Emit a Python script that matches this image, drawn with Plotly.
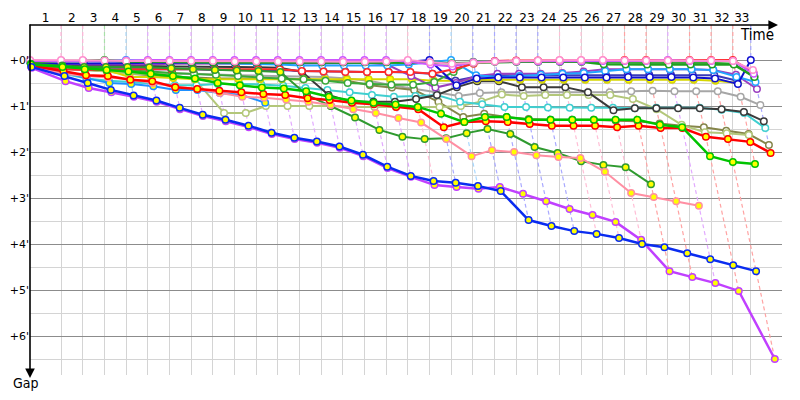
import plotly.graph_objects as go

# ---------------- data ----------------
# leader lap times in seconds (lap 1 .. lap 33)
leader_lap_s = [190,
                133, 133, 132, 133, 133, 132, 133, 133, 132, 133,
                133, 132, 133, 133, 132, 133, 133, 132, 133, 133,
                132, 133, 133, 132, 133, 133, 132, 133, 133, 132,
                133, 110]
lap_labels = ["1", "2", "3", "4", "5", "6", "7", "8", "9", "10", "11",
              "12", "13", "14", "15", "16", "17", "18", "19", "20", "21",
              "22", "23", "24", "25", "26", "27", "28", "29", "30", "31",
              "32", "33"]
gap_tick_vals = [0, 1, 2, 3, 4, 5, 6]
gap_tick_text = ["+0'", "+1'", "+2'", "+3'", "+4'", "+5'", "+6'"]
gap_minor_vals = [0.5, 1.5, 2.5, 3.5, 4.5, 5.5, 6.5]

# gap to leader (minutes) at the end of each lap, lap 0 = start
gap_pink = [0.00, 0.00, 0.00, 0.01, 0.02, 0.02, 0.02, 0.02, 0.02, 0.03,
            0.03, 0.03, 0.03, 0.03, 0.04, 0.04, 0.03, 0.00, 0.05, 0.08,
            0.06, 0.03, 0.02, 0.01, 0.00, 0.00, 0.00, 0.01, 0.01, 0.01,
            0.01, 0.01, 0.02, 0.22]
gap_violet = [0.02, 0.03, 0.02, 0.02, 0.01, 0.00, 0.00, 0.00, 0.00, 0.00,
              0.00, 0.00, 0.00, 0.00, 0.00, 0.00, 0.00, 0.04, 0.10, 0.14,
              0.05, 0.03, 0.03, 0.03, 0.03, 0.03, 0.02, 0.02, 0.02, 0.00,
              0.02, 0.02, 0.02, 0.30]
gap_green = [0.05, 0.02, 0.02, 0.00, 0.03, 0.03, 0.04, 0.05, 0.05, 0.05,
             0.05, 0.05, 0.05, 0.05, 0.05, 0.05, 0.05, 0.05, 0.06, 0.07,
             0.06, 0.04, 0.04, 0.04, 0.04, 0.04, 0.09, 0.10, 0.10, 0.10,
             0.10, 0.10, 0.10, 0.37]
gap_red_top = [0.10, 0.20, 0.22, 0.22, 0.20, 0.20, 0.20, 0.20, 0.20, 0.20,
               0.20, 0.20, 0.24, 0.25, 0.26, 0.26, 0.26, 0.26, 0.30, 0.20,
               0.08, 0.02, 0.01, 0.01, 0.01, 0.01, 0.01, 0.00, 0.00, 0.01,
               0.00, 0.00, 0.00, 0.27]
gap_light_blue = [0.05, 0.03, 0.02, 0.02, 0.00, 0.02, 0.05, 0.06, 0.07, 0.07,
                  0.08, 0.10, 0.12, 0.12, 0.12, 0.12, 0.12, 0.10, 0.05, 0.00,
                  0.33, 0.37, 0.35, 0.32, 0.30, 0.28, 0.24, 0.20, 0.20, 0.20,
                  0.20, 0.22, 0.37, 0.48]
gap_navy = [0.08, 0.08, 0.07, 0.07, 0.07, 0.06, 0.06, 0.06, 0.06, 0.06,
            0.06, 0.06, 0.05, 0.05, 0.05, 0.04, 0.04, 0.04, 0.00, 0.55,
            0.40, 0.38, 0.38, 0.38, 0.38, 0.38, 0.38, 0.37, 0.37, 0.37,
            0.38, 0.40, 0.52, 0.00]
gap_indigo = [0.10, 0.15, 0.18, 0.20, 0.20, 0.20, 0.20, 0.20, 0.22, 0.22,
              0.22, 0.22, 0.24, 0.25, 0.25, 0.26, 0.26, 0.27, 0.30, 0.45,
              0.36, 0.33, 0.33, 0.33, 0.33, 0.32, 0.32, 0.32, 0.32, 0.32,
              0.32, 0.33, 0.45]
gap_purple = [0.05, 0.08, 0.10, 0.10, 0.10, 0.10, 0.08, 0.08, 0.08, 0.08,
              0.08, 0.08, 0.07, 0.07, 0.07, 0.06, 0.10, 0.35, 0.60, 0.50,
              0.35, 0.30, 0.30, 0.30, 0.28, 0.25, 0.20, 0.20, 0.20, 0.20,
              0.20, 0.22, 0.32, 0.63]
gap_green2 = [0.10, 0.15, 0.18, 0.20, 0.22, 0.25, 0.28, 0.30, 0.32, 0.35,
              0.38, 0.40, 0.42, 0.45, 0.50, 0.52, 0.54, 0.54, 0.48, 0.26,
              0.04, 0.03, 0.03, 0.03, 0.04, 0.04, 0.05, 0.06, 0.06, 0.06,
              0.06, 0.06, 0.08, 0.37]
gap_grey = [0.15, 0.20, 0.22, 0.24, 0.26, 0.28, 0.30, 0.30, 0.32, 0.33,
            0.34, 0.35, 0.36, 0.37, 0.40, 0.45, 0.55, 0.62, 0.70, 0.78,
            0.72, 0.70, 0.70, 0.70, 0.70, 0.70, 0.70, 0.68, 0.67, 0.68,
            0.68, 0.68, 0.80, 0.98]
gap_dark_grey = [0.10, 0.10, 0.12, 0.12, 0.13, 0.13, 0.14, 0.14, 0.15, 0.15,
                 0.16, 0.17, 0.26, 0.76, 0.91, 0.91, 0.91, 0.85, 0.76, 0.59,
                 0.46, 0.46, 0.59, 0.59, 0.59, 0.70, 1.09, 1.05, 1.05, 1.05,
                 1.05, 1.07, 1.13, 1.33]
gap_cyan = [0.10, 0.30, 0.40, 0.45, 0.48, 0.52, 0.55, 0.55, 0.52, 0.52,
            0.53, 0.56, 0.61, 0.65, 0.70, 0.76, 0.80, 0.78, 0.76, 0.91,
            0.96, 1.02, 1.02, 1.03, 1.04, 1.04, 1.04, 1.05, 1.04, 1.04,
            1.04, 1.08, 1.15, 1.48]
gap_light_olive = [0.15, 0.20, 0.22, 0.25, 0.30, 0.30, 0.32, 0.43, 1.15, 1.15,
                   1.00, 1.00, 1.00, 1.00, 1.02, 1.02, 1.02, 1.02, 1.02, 1.00,
                   0.90, 0.75, 0.78, 0.76, 0.76, 0.76, 0.76, 0.85, 1.07, 1.41,
                   1.57, 1.59, 1.63]
gap_olive = [0.10, 0.15, 0.20, 0.25, 0.30, 0.33, 0.37, 0.38, 0.40, 0.40,
             0.40, 0.40, 0.42, 0.43, 0.45, 0.55, 0.60, 0.65, 0.91, 1.24,
             1.17, 1.24, 1.28, 1.30, 1.30, 1.30, 1.32, 1.33, 1.38, 1.43,
             1.46, 1.54, 1.61, 1.85]
gap_yellow = [0.15, 0.15, 0.18, 0.22, 0.37, 0.37, 0.39, 0.42, 0.42, 0.42,
              0.42, 0.42, 0.42, 0.42, 0.42, 0.42, 0.42, 0.42, 0.45, 0.45,
              0.43, 0.43, 0.43, 0.43, 0.43, 0.43, 0.43, 0.43, 0.43, 0.43,
              0.43, 0.45, 0.50]
gap_red_mid = [0.12, 0.24, 0.33, 0.35, 0.43, 0.46, 0.59, 0.63, 0.67, 0.70,
               0.74, 0.76, 0.83, 0.87, 0.93, 0.96, 1.02, 1.07, 1.46, 1.35,
               1.33, 1.35, 1.39, 1.43, 1.43, 1.43, 1.46, 1.43, 1.48, 1.48,
               1.67, 1.72, 1.78, 2.02]
gap_bright_green = [0.10, 0.15, 0.20, 0.22, 0.25, 0.30, 0.35, 0.40, 0.50, 0.55,
                    0.60, 0.62, 0.68, 0.80, 0.88, 0.93, 0.97, 1.02, 1.17, 1.35,
                    1.24, 1.24, 1.30, 1.30, 1.30, 1.30, 1.30, 1.30, 1.41, 1.46,
                    2.09, 2.22, 2.26]
gap_forest_green = [0.08, 0.12, 0.15, 0.15, 0.15, 0.16, 0.18, 0.20, 0.22, 0.23,
                    0.24, 0.26, 0.76, 1.00, 1.25, 1.52, 1.67, 1.72, 1.70, 1.59,
                    1.50, 1.61, 1.89, 2.02, 2.20, 2.28, 2.33, 2.70]
gap_salmon = [0.15, 0.30, 0.35, 0.38, 0.42, 0.50, 0.58, 0.63, 0.72, 0.80,
              0.82, 0.86, 0.91, 0.98, 1.07, 1.15, 1.26, 1.36, 1.72, 2.09,
              1.96, 2.00, 2.07, 2.11, 2.13, 2.43, 2.89, 2.98, 3.07, 3.17]
gap_dodger = [0.12, 0.25, 0.40, 0.50, 0.52, 0.57, 0.65, 0.65, 0.72, 0.76,
              0.93]
gap_blue = [0.15, 0.35, 0.50, 0.65, 0.77, 0.88, 1.04, 1.19, 1.30, 1.43,
            1.58, 1.69, 1.77, 1.88, 2.06, 2.32, 2.52, 2.63, 2.67, 2.74,
            2.85, 3.48, 3.61, 3.72, 3.78, 3.87, 4.00, 4.07, 4.20, 4.33,
            4.46, 4.59]
gap_violet_low = [0.17, 0.46, 0.61, 0.70, 0.80, 0.91, 1.07, 1.22, 1.33, 1.46,
                  1.61, 1.72, 1.80, 1.91, 2.09, 2.35, 2.54, 2.72, 2.76, 2.80,
                  2.76, 2.91, 3.07, 3.24, 3.37, 3.52, 3.91, 4.59, 4.72, 4.85,
                  5.02, 6.50]

# ---------------- styles ----------------
lap_line_colors = (["#ffb3d9"] * 2 + ["#a8e0a8", "#a8d4f5"] + ["#e2aaff"] * 12 +
                   ["#ffbfd6", "#a9a9ff", "#a9d8ff"] + ["#a9a9ff"] * 4 +
                   ["#ffbfd6"] * 3 + ["#ffa3a3"] * 2 + ["#e2aaff"] +
                   ["#ffa3a3"] * 3 + ["#a9a9ff"])

WHITE, YELLOW = "#ffffff", "#ffff00"
series = [
    # (gaps, line colour, marker fill, line width)
    (gap_grey, "#a6a6a6", WHITE, 2),
    (gap_olive, "#85854a", WHITE, 2),
    (gap_light_olive, "#b3c77a", WHITE, 2),
    (gap_cyan, "#3fcfd0", WHITE, 2),
    (gap_dark_grey, "#3a3a3a", WHITE, 2),
    (gap_yellow, "#d6d600", YELLOW, 2),
    (gap_indigo, "#3a3ab8", WHITE, 2),
    (gap_purple, "#9a3fc0", WHITE, 2),
    (gap_green2, "#3aa83a", WHITE, 2),
    (gap_light_blue, "#20a4ff", WHITE, 2),
    (gap_navy, "#1010d0", WHITE, 2),
    (gap_red_top, "#ff2a2a", WHITE, 2),
    (gap_green, "#1f9f1f", WHITE, 2.5),
    (gap_violet, "#cc55ff", WHITE, 2),
    (gap_pink, "#ff8fcf", WHITE, 2),
    (gap_dodger, "#1e90ff", YELLOW, 2),
    (gap_forest_green, "#2f9a2f", YELLOW, 2),
    (gap_salmon, "#ff8fa3", YELLOW, 2),
    (gap_red_mid, "#ff0000", YELLOW, 2.5),
    (gap_bright_green, "#00c400", YELLOW, 2.5),
    (gap_violet_low, "#c040ff", YELLOW, 2.5),
    (gap_blue, "#0a2cf0", YELLOW, 2.5),
]

# ---------------- geometry from data ----------------
T = [0]
for s in leader_lap_s:
    T.append(T[-1] + s)
PX_PER_MIN = 9.8
PLOT_W = 752          # plot area 30..782 px; grid is masked beyond 770 px
X_MAX = PLOT_W / PX_PER_MIN * 60.0
Y_TOP, Y_BOTTOM = -35 / 46, 315 / 46
mids = [(T[k - 1] + T[k]) / 2 for k in range(1, len(T))]

fig = go.Figure()

# lap lines (dashed): vertical from the top to the leader, then slanted through each car
for k in range(1, len(T)):
    gmax = max(g[k] for g, *_ in series if len(g) > k)
    fig.add_trace(go.Scatter(
        x=[T[k], T[k], T[k] + gmax * 60], y=[Y_TOP, 0, gmax],
        mode="lines", line=dict(color=lap_line_colors[k - 1], width=1.2, dash="4px,3px"),
        hoverinfo="skip"))

for gaps, color, fill, width in series:
    xs = [T[k] + g * 60 for k, g in enumerate(gaps)]
    fig.add_trace(go.Scatter(
        x=xs, y=gaps, mode="lines+markers", cliponaxis=False,
        line=dict(color=color, width=width),
        marker=dict(size=6.5, color=fill, line=dict(color=color, width=1.5)),
        hoverinfo="skip"))

# invisible trace to carry the top lap-number axis
fig.add_trace(go.Scatter(x=[0], y=[0], xaxis="x2", mode="markers",
                         marker=dict(opacity=0), hoverinfo="skip"))

# the page body has an 8px margin, so the figure is sized to keep the
# plot area at x 30.. and y 25..375 of the 800x400 window
tick_font = dict(family="DejaVu Sans", size=12, color="black")
fig.update_layout(
    width=784, height=384,
    margin=dict(l=22, r=784 - 22 - PLOT_W, t=17, b=17, autoexpand=False),
    plot_bgcolor="white", paper_bgcolor="white", showlegend=False,
    xaxis=dict(range=[0, X_MAX], tickmode="array", tickvals=T[1:], automargin=False,
               showticklabels=False, showgrid=True, gridcolor="#d4d4d4",
               gridwidth=1, zeroline=False, showline=False, ticks=""),
    xaxis2=dict(overlaying="x", side="top", range=[0, X_MAX], tickmode="array",
                tickvals=mids, ticktext=lap_labels, showgrid=False, automargin=False,
                zeroline=False, showline=False, ticks="", tickfont=tick_font),
    yaxis=dict(range=[Y_BOTTOM, Y_TOP], tickmode="array", tickvals=gap_tick_vals,
               ticktext=gap_tick_text, showgrid=True, gridcolor="#8c8c8c",
               gridwidth=1, zeroline=False, showline=False, ticks="",
               tickfont=dict(family="DejaVu Sans", size=11, color="black"),
               automargin=False,
               minor=dict(tickmode="array", tickvals=gap_minor_vals,
                          showgrid=True, gridcolor="#d4d4d4", gridwidth=1)),
    shapes=[
        # mask the horizontal grid lines beyond the right end of the chart grid
        dict(type="rect", xref="paper", yref="paper", x0=740 / PLOT_W, x1=1.0,
             y0=-0.01, y1=1.0, fillcolor="white", line=dict(width=0), layer="between"),
    ],
    annotations=[
        # top axis with arrow
        dict(xref="paper", yref="paper", x=748 / PLOT_W, y=1, ax=-750, ay=0,
             axref="pixel", ayref="pixel", text="", showarrow=True,
             arrowhead=2, arrowsize=1.2, arrowwidth=1.6, arrowcolor="black"),
        # left axis with arrow
        dict(xref="paper", yref="paper", x=0, y=-3 / 350, ax=0, ay=-355,
             axref="pixel", ayref="pixel", text="", showarrow=True,
             arrowhead=2, arrowsize=1.2, arrowwidth=1.6, arrowcolor="black"),
        dict(xref="paper", yref="paper", x=(757 - 30) / PLOT_W, y=(375 - 35) / 350,
             text="Time", showarrow=False, xanchor="center", yanchor="middle",
             font=dict(family="DejaVu Sans Condensed, DejaVu Sans", size=15, color="black")),
        dict(xref="paper", yref="paper", x=-5 / PLOT_W, y=-(383 - 375) / 350,
             text="Gap", showarrow=False, xanchor="center", yanchor="middle",
             font=dict(family="DejaVu Sans Condensed, DejaVu Sans", size=14, color="black")),
    ],
)

fig.write_html("out.html")
